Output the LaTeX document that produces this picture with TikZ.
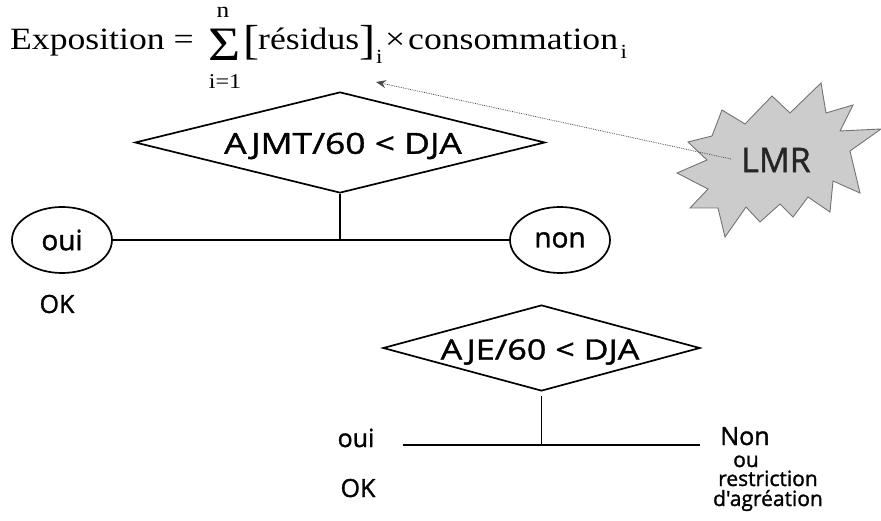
\documentclass[tikz,border=0pt]{standalone}
\usepackage{fontspec}
\usetikzlibrary{shapes.geometric,arrows.meta}
\newfontfamily\serifx[FakeStretch=1.15]{Liberation Serif}
\newfontfamily\comic[FakeBold=1.3]{Open Sans}
\newfontfamily\comicw[FakeStretch=1.22,FakeBold=1.3]{Open Sans}
\newcommand{\fsz}[1]{\fontsize{#1}{#1}\selectfont}
\begin{document}
\begin{tikzpicture}[x=1pt,y=-1pt,
  fx/.style={inner sep=0pt, font=\serifx\fsz{31}},
  fxsub/.style={inner sep=0pt, font=\serifx\fsz{20}},
  fxbig/.style={inner sep=0pt, font=\serifx\fsz{42}},
  decision/.style={diamond, draw, line width=1.7pt, inner sep=0pt},
  dtext/.style={inner sep=0pt, font=\comicw\fsz{29}},
  answer/.style={ellipse, draw, line width=1.7pt, minimum width=100pt, minimum height=66pt, inner sep=0pt, font=\comic\fsz{28}},
  lbl/.style={inner sep=0pt, font=\comic\fsz{25}},
  lblsmall/.style={inner sep=0pt, font=\comic\fsz{21}},
  branch/.style={line width=1.7pt},
  dotarrow/.style={densely dotted, gray!60!black, line width=0.8pt, -{Stealth[length=10pt,width=8pt]}},
  burst/.style={fill=black!20, draw=black!55, line width=0.9pt}
]
\useasboundingbox (0,0) rectangle (881,521);

% formula
\node[fx, anchor=base west] (expo) at (10,50) {Exposition =};
\node[inner sep=0pt, font=\serifx\fsz{48}, anchor=base] (sigma) at (225,61) {Σ};
\node[inner sep=0pt, font=\serifx\fsz{22}, anchor=base] (nup) at (223,18) {n};
\node[inner sep=0pt, font=\serifx\fsz{21}, anchor=base] (ilow) at (225,89) {i=1};
\node[fxbig, anchor=base west] (lb) at (243,55) {[};
\node[fx, anchor=base west] (res) at (258,50) {résidus};
\node[fxbig, anchor=base west] (rb) at ([yshift=-5pt]res.base east) {]};
\node[fxsub, anchor=base west] (sub1) at ([xshift=0pt,yshift=-9pt]rb.base east) {i};
\node[fx, anchor=base west] (times) at (385,50) {×};
\node[fx, anchor=base west] (cons) at (408,50) {consommation};
\node[fxsub, anchor=base west] (sub2) at ([xshift=2pt,yshift=-9pt]cons.base east) {i};

% first decision
\node[decision, minimum width=410pt, minimum height=101pt] (d1) at (340,142.5) {};
\node[dtext] (t1) at (343,146) {AJMT/60 < DJA};
\coordinate (j1) at (340,240);
\node[answer] (oui1) at (62,240) {oui};
\node[answer] (non1) at (560,240) {non};
\draw[branch] (d1.south) -- (j1);
\draw[branch] (oui1.east) -- (non1.west);
\node[lbl] (ok1) at (57,304) {OK};

% LMR burst
\draw[burst] (688,142) -- (712,136) -- (722,110) -- (745,124) -- (772,96) -- (790,113)
  -- (821,83) -- (826,113) -- (853,105) -- (840,131) -- (881,129) -- (850,151)
  -- (860,193) -- (833,181) -- (830,212) -- (808,197) -- (793,217) -- (780,204)
  -- (760,222) -- (746,207) -- (725,237) -- (718,208) -- (690,208) -- (708,189)
  -- (677,173) -- (707,160) -- cycle;
\node[inner sep=0pt, font=\comic\fsz{34}, text=black!85] (lmr) at (776,160) {LMR};
\coordinate (restip) at (376,82);
\coordinate (lmrtail) at (731,159);
\draw[dotarrow] (lmrtail) -- (restip);

% second decision
\node[decision, minimum width=317pt, minimum height=86pt] (d2) at (541.5,348) {};
\node[dtext, font=\comicw\fsz{28}] (t2) at (540,352) {AJE/60 < DJA};
\coordinate (j2) at (541.5,445);
\coordinate (h2a) at (403,445);
\coordinate (h2b) at (700,445);
\draw[branch] ([yshift=-4pt]d2.south) -- (j2);
\draw[branch] (h2a) -- (h2b);
\node[lbl, anchor=base] (oui2) at (356,447) {oui};
\node[lbl, anchor=base] (ok2) at (358,497) {OK};
\node[lbl, anchor=base] (non2) at (745,445) {Non};
\node[lblsmall, anchor=base] (ou2) at (746,467) {ou};
\node[lblsmall, anchor=base] (restr) at (768,486) {restriction};
\node[lblsmall, anchor=base] (agr) at (768,506) {d'agréation};
\end{tikzpicture}
\end{document}
